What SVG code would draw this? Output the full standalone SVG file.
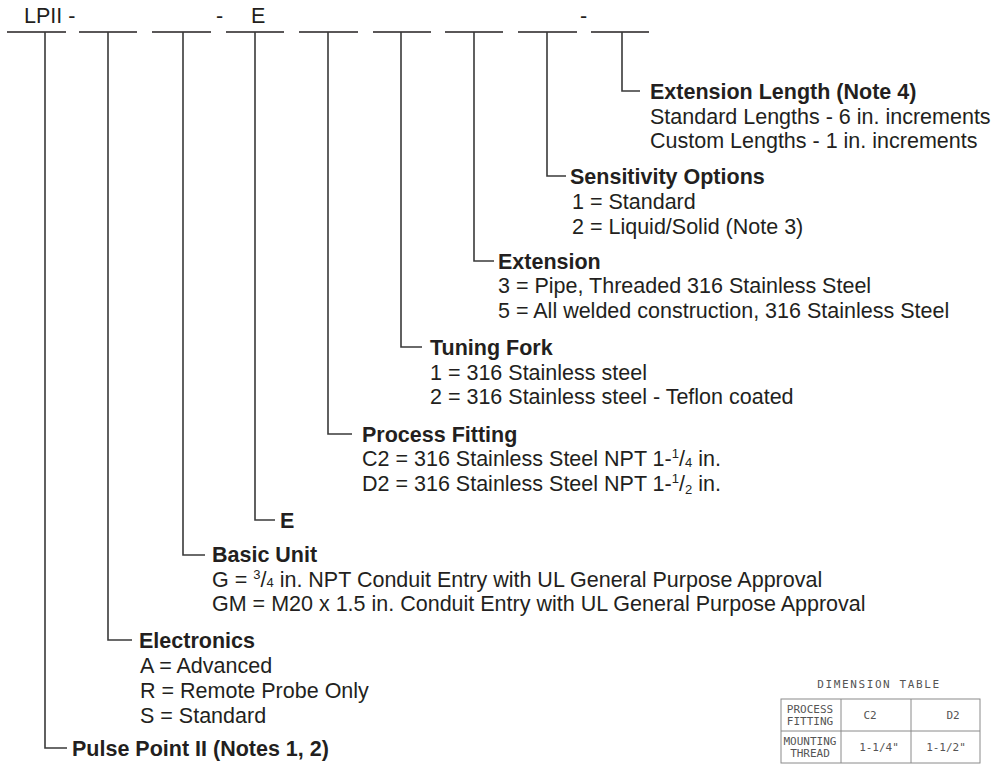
<svg xmlns="http://www.w3.org/2000/svg" width="1004" height="766" viewBox="0 0 1004 766">
<style>
.t{font-family:"Liberation Sans",Arial,sans-serif;font-size:21.5px;fill:#231f20}
.h{font-family:"Liberation Sans",Arial,sans-serif;font-size:21.5px;font-weight:bold;fill:#231f20}
.ln{fill:none;stroke:#3a3a3a;stroke-width:1.6}
.bl{stroke:#231f20;stroke-width:1.6}
.tb{fill:none;stroke:#8a8a8a;stroke-width:1}
.cad{font-family:"DejaVu Sans Mono","Liberation Mono",monospace;font-size:11px;fill:#555}
</style>
<rect width="1004" height="766" fill="#fff"/>
<g id="code-row">
<text class="t" x="24" y="23">LPII -</text>
<text class="t" x="216" y="23">-</text>
<text class="t" x="251" y="23">E</text>
<text class="t" x="580" y="23">-</text>
<line class="bl" x1="7" y1="32" x2="66" y2="32"/>
<line class="bl" x1="79" y1="32" x2="137" y2="32"/>
<line class="bl" x1="152" y1="32" x2="211" y2="32"/>
<line class="bl" x1="226" y1="32" x2="284" y2="32"/>
<line class="bl" x1="299" y1="32" x2="358" y2="32"/>
<line class="bl" x1="373" y1="32" x2="431" y2="32"/>
<line class="bl" x1="445" y1="32" x2="503" y2="32"/>
<line class="bl" x1="518" y1="32" x2="577" y2="32"/>
<line class="bl" x1="591" y1="32" x2="649" y2="32"/>
</g>
<g id="connectors">
<path class="ln" d="M622 32V91H640"/>
<path class="ln" d="M547 32V176H566"/>
<path class="ln" d="M474 32V261H494"/>
<path class="ln" d="M401 32V347H422"/>
<path class="ln" d="M328 32V434H352"/>
<path class="ln" d="M255 32V520H275"/>
<path class="ln" d="M183 32V555H205"/>
<path class="ln" d="M108 32V640H132"/>
<path class="ln" d="M45 32V748H67"/>
</g>
<g id="extension-length">
<text class="h" x="650" y="99">Extension Length (Note 4)</text>
<text class="t" x="650" y="124">Standard Lengths - 6 in. increments</text>
<text class="t" x="650" y="148">Custom Lengths - 1 in. increments</text>
</g>
<g id="sensitivity">
<text class="h" x="570" y="184">Sensitivity Options</text>
<text class="t" x="572" y="209">1 = Standard</text>
<text class="t" x="572" y="234">2 = Liquid/Solid (Note 3)</text>
</g>
<g id="extension">
<text class="h" x="498" y="269">Extension</text>
<text class="t" x="498" y="293">3 = Pipe, Threaded 316 Stainless Steel</text>
<text class="t" x="498" y="318">5 = All welded construction, 316 Stainless Steel</text>
</g>
<g id="tuning-fork">
<text class="h" x="430" y="355">Tuning Fork</text>
<text class="t" x="430" y="380">1 = 316 Stainless steel</text>
<text class="t" x="430" y="404">2 = 316 Stainless steel - Teflon coated</text>
</g>
<g id="process-fitting">
<text class="h" x="362" y="442">Process Fitting</text>
<text class="t" x="362" y="466">C2 = 316 Stainless Steel NPT 1-<tspan font-size="13" dy="-8">1</tspan><tspan dy="8">/</tspan><tspan font-size="13" dy="1">4</tspan><tspan dy="-1"> in.</tspan></text>
<text class="t" x="362" y="491">D2 = 316 Stainless Steel NPT 1-<tspan font-size="13" dy="-8">1</tspan><tspan dy="8">/</tspan><tspan font-size="13" dy="3">2</tspan><tspan dy="-3"> in.</tspan></text>
</g>
<g id="e-code">
<text class="h" x="280" y="528">E</text>
</g>
<g id="basic-unit">
<text class="h" x="212" y="562">Basic Unit</text>
<text class="t" x="212" y="587">G = <tspan font-size="13" dy="-8">3</tspan><tspan dy="8">/</tspan><tspan font-size="13" dy="0">4</tspan> in. NPT Conduit Entry with UL General Purpose Approval</text>
<text class="t" x="212" y="611">GM = M20 x 1.5 in. Conduit Entry with UL General Purpose Approval</text>
</g>
<g id="electronics">
<text class="h" x="139" y="648">Electronics</text>
<text class="t" x="140" y="673">A = Advanced</text>
<text class="t" x="140" y="698">R = Remote Probe Only</text>
<text class="t" x="140" y="723">S = Standard</text>
</g>
<g id="pulse-point">
<text class="h" x="72" y="756">Pulse Point II (Notes 1, 2)</text>
</g>
<g id="dimension-table">
<text class="cad" x="879" y="688" text-anchor="middle" font-size="12.5" letter-spacing="1.6">DIMENSION TABLE</text>
<rect class="tb" x="781" y="699" width="199" height="64"/>
<line class="tb" x1="781" y1="731" x2="980" y2="731"/>
<line class="tb" x1="841" y1="699" x2="841" y2="763"/>
<line class="tb" x1="911" y1="699" x2="911" y2="763"/>
<text class="cad" x="810" y="713" text-anchor="middle">PROCESS</text>
<text class="cad" x="810" y="725" text-anchor="middle">FITTING</text>
<text class="cad" x="870" y="719" text-anchor="middle">C2</text>
<text class="cad" x="953" y="719" text-anchor="middle">D2</text>
<text class="cad" x="810" y="745" text-anchor="middle">MOUNTING</text>
<text class="cad" x="810" y="757" text-anchor="middle">THREAD</text>
<text class="cad" x="879" y="751" text-anchor="middle">1-1/4"</text>
<text class="cad" x="946" y="751" text-anchor="middle">1-1/2"</text>
</g>
</svg>
